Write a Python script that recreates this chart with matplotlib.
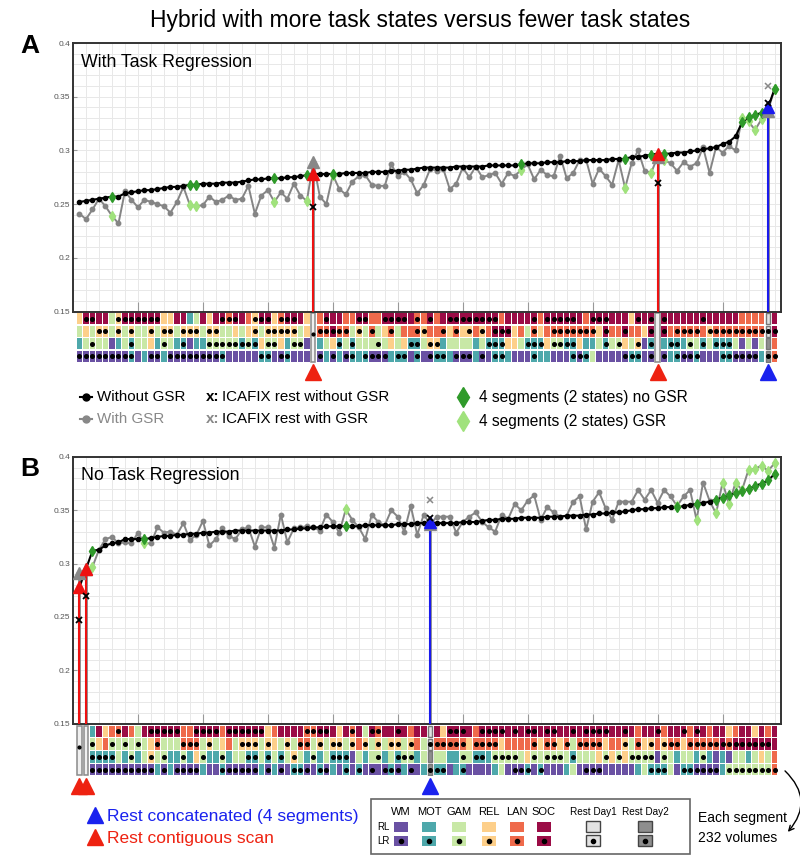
import numpy as np
import matplotlib
matplotlib.use('Agg')
import matplotlib.pyplot as plt
from matplotlib.patches import Rectangle, FancyArrowPatch
from matplotlib.ticker import MultipleLocator

plt.rcParams['font.family'] = ['Liberation Sans', 'DejaVu Sans']

# ---------------- data ----------------
# panel A (with task regression), one value per hybrid, sorted by the no-GSR value
black_a = [0.252, 0.253, 0.254, 0.255, 0.256, 0.257, 0.257, 0.260, 0.261, 0.262,
           0.263, 0.263, 0.264, 0.265, 0.266, 0.266, 0.267, 0.268, 0.268, 0.269,
           0.269, 0.269, 0.270, 0.270, 0.270, 0.271, 0.272, 0.273, 0.273, 0.274,
           0.274, 0.274, 0.275, 0.275, 0.276, 0.277, 0.278, 0.278, 0.278, 0.278,
           0.278, 0.279, 0.279, 0.279, 0.279, 0.280, 0.280, 0.280, 0.281, 0.281,
           0.282, 0.282, 0.283, 0.284, 0.284, 0.284, 0.284, 0.284, 0.285, 0.285,
           0.285, 0.285, 0.285, 0.286, 0.286, 0.286, 0.286, 0.286, 0.287, 0.288,
           0.288, 0.288, 0.289, 0.289, 0.289, 0.290, 0.290, 0.290, 0.291, 0.291,
           0.291, 0.291, 0.292, 0.292, 0.292, 0.294, 0.294, 0.295, 0.296, 0.297,
           0.297, 0.297, 0.298, 0.298, 0.299, 0.300, 0.301, 0.302, 0.303, 0.306,
           0.308, 0.313, 0.326, 0.331, 0.333, 0.335, 0.340, 0.357]
gray_a = [0.241, 0.236, 0.245, 0.255, 0.248, 0.239, 0.232, 0.262, 0.254, 0.247,
          0.254, 0.252, 0.250, 0.248, 0.242, 0.252, 0.266, 0.249, 0.248, 0.249,
          0.257, 0.252, 0.254, 0.258, 0.254, 0.255, 0.267, 0.241, 0.258, 0.263,
          0.252, 0.261, 0.255, 0.269, 0.258, 0.253, 0.289, 0.257, 0.250, 0.277,
          0.264, 0.259, 0.271, 0.276, 0.277, 0.268, 0.267, 0.267, 0.287, 0.276,
          0.280, 0.273, 0.260, 0.268, 0.283, 0.281, 0.283, 0.264, 0.269, 0.284,
          0.275, 0.285, 0.275, 0.277, 0.279, 0.269, 0.279, 0.276, 0.282, 0.287,
          0.273, 0.282, 0.277, 0.276, 0.295, 0.274, 0.279, 0.291, 0.291, 0.269,
          0.283, 0.276, 0.268, 0.291, 0.265, 0.288, 0.300, 0.281, 0.279, 0.294,
          0.291, 0.288, 0.281, 0.289, 0.285, 0.288, 0.303, 0.279, 0.303, 0.298,
          0.304, 0.300, 0.330, 0.327, 0.319, 0.329, 0.337, 0.357]
green_a = [5, 17, 18, 30, 35, 39, 68, 84, 88, 90, 102, 103, 104, 105, 107]
rest_a = [36, 89, 106]
rest_kind_a = ['contig', 'contig', 'concat']
icafix_a = [0.247, 0.270, 0.344]
icafix_gsr_a = [np.nan, np.nan, 0.360]
contig_dot_a = [36]

# panel B (no task regression)
black_b = [0.278, 0.295, 0.312, 0.313, 0.317, 0.319, 0.320, 0.323, 0.323, 0.323,
           0.323, 0.324, 0.325, 0.326, 0.326, 0.327, 0.327, 0.328, 0.328, 0.329,
           0.329, 0.330, 0.330, 0.330, 0.331, 0.331, 0.331, 0.331, 0.331, 0.331,
           0.331, 0.331, 0.332, 0.332, 0.333, 0.333, 0.334, 0.334, 0.335, 0.335,
           0.335, 0.335, 0.335, 0.335, 0.336, 0.336, 0.336, 0.336, 0.336, 0.337,
           0.337, 0.337, 0.338, 0.338, 0.339, 0.338, 0.338, 0.338, 0.338, 0.339,
           0.339, 0.339, 0.340, 0.341, 0.341, 0.342, 0.342, 0.342, 0.343, 0.343,
           0.343, 0.343, 0.344, 0.344, 0.344, 0.345, 0.345, 0.345, 0.346, 0.346,
           0.347, 0.347, 0.348, 0.348, 0.349, 0.350, 0.351, 0.351, 0.352, 0.352,
           0.353, 0.353, 0.353, 0.354, 0.355, 0.356, 0.357, 0.358, 0.360, 0.362,
           0.364, 0.366, 0.368, 0.370, 0.373, 0.375, 0.378, 0.384]
gray_b = [0.291, 0.295, 0.297, 0.313, 0.323, 0.325, 0.319, 0.320, 0.319, 0.329,
          0.319, 0.319, 0.334, 0.329, 0.330, 0.327, 0.338, 0.322, 0.327, 0.340,
          0.317, 0.323, 0.333, 0.326, 0.323, 0.332, 0.334, 0.316, 0.334, 0.334,
          0.315, 0.346, 0.320, 0.333, 0.334, 0.335, 0.334, 0.331, 0.346, 0.339,
          0.329, 0.351, 0.341, 0.334, 0.323, 0.346, 0.339, 0.336, 0.350, 0.344,
          0.330, 0.354, 0.327, 0.346, 0.337, 0.344, 0.344, 0.344, 0.329, 0.339,
          0.344, 0.348, 0.339, 0.334, 0.330, 0.346, 0.342, 0.356, 0.350, 0.359,
          0.364, 0.341, 0.353, 0.348, 0.344, 0.345, 0.358, 0.363, 0.332, 0.358,
          0.367, 0.352, 0.341, 0.358, 0.358, 0.358, 0.369, 0.360, 0.369, 0.357,
          0.369, 0.363, 0.354, 0.363, 0.369, 0.341, 0.376, 0.359, 0.347, 0.376,
          0.356, 0.376, 0.369, 0.388, 0.389, 0.392, 0.387, 0.394]
green_b = [2, 10, 41, 92, 95, 98, 99, 100, 101, 102, 103, 104, 105, 106, 107]
rest_b = [0, 1, 54]
rest_kind_b = ['contig', 'contig', 'concat']
icafix_b = [0.247, 0.270, 0.343]
icafix_gsr_b = [np.nan, np.nan, 0.360]
contig_dot_b = [0]

# segment matrix: W M G R L S = WM MOT GAM REL LAN SOC (upper RL, lower LR = dot)
# A/a, B/b = rest day1 / day2, C = contiguous rest scan
rows_a = [
    "RssSSGrsss" "sssRRSSMGS" "RSslsSLrss" "RlssSRCLsS" "SLLssLLsss"
    "sSlLsLSsss" "sssssLSSSS" "sLsssssSLs" "ssSSSRsSsC" "sSSSSSsSSS" "SSLLLLAS",
    "GRGrrGrGrG" "GrGrrGrrrG" "rrGGRGRrGr" "rrrrGRClls" "llGrGlGRlG"
    "LLlrLLlRlR" "rLrLsssRLG" "lRLlllllll" "RsLLsLLRsC" "sLllllLrll" "llllllas",
    "MGgGGWMGmG" "GRMgGMmWMM" "gggggmgmRg" "gRMggWCMGR" "mGmGGGgGRG"
    "RmmGrrMGGG" "GMGmmmRRGm" "mmRggmmRMM" "GmGgRGrWmC" "MmmMgGmGmm" "mGWGWGBL",
    "wwwwwwwwmW" "MwwMwwwwww" "wwmWWWWWmm" "WwmWWWCwMw" "MwmMmwwwMm"
    "mWmWwmmMww" "wMwWmmMWWW" "mMMWWWmwmG" "WWWWwmmWwC" "wMmwwmWWWm" "mwwwwMbl",
]
rows_b = [
    "CCMSRLlSLG" "SsssssLLss" "ssLssssssR" "LSSSSllssS" "RSlSGslSSs"
    "SLSSASRsss" "SLssssSsSs" "sSssSSsSss" "ssSSsSLSSs" "LSSsLsSLSS" "RLSSRSLS",
    "CCgRLgGgGg" "GRlGGGlllG" "rGRLGrrrGr" "RGrGllGrGr" "rGrLrGrGrr"
    "GrLGalllll" "RllllRLLLL" "lRllRlGlll" "lRLLrGlRrL" "rllRllllls" "lssssssS",
    "CCmmmmGMgM" "GrGgMMgMRg" "MMgMGGmmGm" "GmGrGMgMGm" "mmWGMGgMGm"
    "ggMGBGGMMg" "GmmMggggGR" "gGgggGmGGG" "RgRgRggggW" "gGMGGMgMWM" "WGGMGRGL",
    "CCwwwwwwww" "wwMwMwwwwM" "WWmwwwwwMw" "MwWmmwWmwM" "WmWmWwWwmw"
    "MwWMbmmWMm" "WWWWMGWwwm" "WmWWWMGWww" "wWWWWWMGmm" "mGWmmwwwwM" "gggggggl",
]

task_names = ['WM', 'MOT', 'GAM', 'REL', 'LAN', 'SOC']
task_codes = ['W', 'M', 'G', 'R', 'L', 'S']
task_colors = ['#6a51a3', '#4ea8ab', '#c8e8a6', '#fdcf8a', '#ef6a4b', '#9b0c46']
rest_colors = {'A': '#e2e2e2', 'B': '#8e8e8e'}
color_of = dict(zip(task_codes, task_colors))
color_of.update(rest_colors)

n_cols = len(black_a)
for r in rows_a + rows_b:
    if len(r) != n_cols:
        raise ValueError('row length %d' % len(r))

fig = plt.figure(figsize=(8, 8.56), dpi=100)

L, W = 73 / 800, 708 / 800
XLIM = (0, 109)


def draw_main(ax, black, gray, green, rest, kinds, icafix, icafix_gsr, label):
    cols = np.arange(1, len(black) + 1)
    black = np.array(black)
    gray = np.array(gray)
    ax.set_xlim(*XLIM)
    ax.set_ylim(0.15, 0.4)
    ax.xaxis.set_minor_locator(MultipleLocator(2))
    ax.yaxis.set_minor_locator(MultipleLocator(0.01))
    ax.grid(which='both', color='#e8e8e8', lw=0.7)
    ax.set_axisbelow(True)
    ax.set_xticks(np.arange(10, 101, 10))
    ax.set_xticklabels([])
    ax.set_yticks([0.15, 0.2, 0.25, 0.3, 0.35, 0.4])
    ax.set_yticklabels(['0.15', '0.2', '0.25', '0.3', '0.35', '0.4'], fontsize=6, color='#555555')
    ax.tick_params(axis='x', which='major', direction='in', length=7, color='#999999')
    ax.tick_params(axis='y', which='major', direction='in', length=3, color='#999999', pad=2)
    ax.tick_params(which='minor', length=0)
    for s in ax.spines.values():
        s.set_color('#333333')
        s.set_linewidth(1.4)

    for c, k in zip(rest, kinds):
        col = '#ee1111' if k == 'contig' else '#1a1aee'
        ax.plot([c + 1, c + 1], [0.15, gray[c]], color='#888888', lw=2, zorder=2)
        ax.plot([c + 1, c + 1], [0.15, black[c]], color=col, lw=1.5, zorder=3)

    ax.plot(cols, gray, color='#858585', lw=1.4, marker='o', ms=3.2, zorder=4)
    ax.plot(cols, black, color='black', lw=1.5, marker='o', ms=3.0, zorder=5)
    ax.plot(cols[green], gray[green], 'd', color='#a0e27c', ms=5.5, zorder=6)
    ax.plot(cols[green], black[green], 'd', color='#2f9a2a', ms=5.5, zorder=7)

    for c, k, xb, xg in zip(rest, kinds, icafix, icafix_gsr):
        col = '#ee1111' if k == 'contig' else '#1a1aee'
        ax.plot(c + 1, gray[c], '^', color='#888888', ms=9, zorder=8)
        ax.plot(c + 1, black[c], '^', color=col, ms=9, zorder=9)
        ax.plot(c + 1, xb, 'x', color='black', ms=4.5, mew=1.3, zorder=10)
        ax.plot(c + 1, xg, 'x', color='#888888', ms=4.5, mew=1.1, zorder=10)

    ax.text(0.011, 0.929, label, transform=ax.transAxes, fontsize=12.8, va='center')


def draw_matrix(axm, rows, rest, kinds, contig_dot, tri_y):
    axm.set_xlim(*XLIM)
    axm.set_ylim(4, 0)
    axm.axis('off')
    for r, row in enumerate(rows):
        for i, code in enumerate(row):
            x = i + 1
            up = code.upper()
            if up == 'C':
                continue
            if up in rest_colors:
                axm.add_patch(Rectangle((x - 0.33, r + 0.06), 0.66, 0.88, fc=color_of[up],
                                        ec='#777777', lw=1.0))
            else:
                axm.add_patch(Rectangle((x - 0.43, r + 0.05), 0.86, 0.9, fc=color_of[up],
                                        ec='none'))
            if code.islower():
                axm.plot(x, r + 0.5, 'o', color='black', ms=2.6)
    for c, k in zip(rest, kinds):
        if k == 'contig':
            axm.add_patch(Rectangle((c + 1 - 0.33, 0.04), 0.66, 3.92, fc='#f0f0f0',
                                    ec='#8a8a8a', lw=1.1))
            if c in contig_dot:
                axm.plot(c + 1, 1.7, 'o', color='black', ms=2.0)
        col = '#ee2211' if k == 'contig' else '#1a22ee'
        axm.plot(c + 1, tri_y, '^', color=col, ms=12, clip_on=False)


ax_a = fig.add_axes([L, 1 - 311.5 / 856, W, 268.5 / 856])
draw_main(ax_a, black_a, gray_a, green_a, rest_a, rest_kind_a, icafix_a, icafix_gsr_a,
          'With Task Regression')
axm_a = fig.add_axes([L, 1 - 362.5 / 856, W, 50 / 856])
draw_matrix(axm_a, rows_a, rest_a, rest_kind_a, contig_dot_a, 4.78)

ax_b = fig.add_axes([L, 1 - 723.5 / 856, W, 266.5 / 856])
draw_main(ax_b, black_b, gray_b, green_b, rest_b, rest_kind_b, icafix_b, icafix_gsr_b,
          'No Task Regression')
axm_b = fig.add_axes([L, 1 - 776 / 856, W, 51 / 856])
draw_matrix(axm_b, rows_b, rest_b, rest_kind_b, contig_dot_b, 4.75)

# ---------------- overlay: titles, legends ----------------
ov = fig.add_axes([0, 0, 1, 1], zorder=20)
ov.set_xlim(0, 800)
ov.set_ylim(856, 0)
ov.axis('off')
ov.patch.set_alpha(0)

ov.text(420, 20, 'Hybrid with more task states versus fewer task states', fontsize=16.5,
        ha='center', va='center')
ov.text(30, 46, 'A', fontsize=19, weight='bold', ha='center', va='center')
ov.text(30, 469, 'B', fontsize=19, weight='bold', ha='center', va='center')

fs = 10.9
ov.plot([80, 92], [397, 397], color='black', lw=1.5)
ov.plot(86, 397, 'o', color='black', ms=5)
ov.text(97, 397, 'Without GSR', fontsize=fs, va='center')
ov.plot([80, 92], [419, 419], color='#888888', lw=1.5)
ov.plot(86, 419, 'o', color='#888888', ms=5)
ov.text(97, 419, 'With GSR', fontsize=fs, va='center', color='#888888')
ov.text(206, 397, 'x:', fontsize=fs, va='center', weight='bold')
ov.text(222, 397, 'ICAFIX rest without GSR', fontsize=fs, va='center')
ov.text(206, 419, 'x:', fontsize=fs, va='center', weight='bold', color='#888888')
ov.text(222, 419, 'ICAFIX rest with GSR', fontsize=fs, va='center')
ov.plot(463, 397, 'd', color='#2f9a2a', ms=10)
ov.text(479, 397, '4 segments (2 states) no GSR', fontsize=11.2, va='center')
ov.plot(463, 421, 'd', color='#a0e27c', ms=10)
ov.text(479, 421, '4 segments (2 states) GSR', fontsize=11.2, va='center')

ov.plot(95, 815, '^', color='#1a22ee', ms=12)
ov.text(107, 816, 'Rest concatenated (4 segments)', fontsize=12.5, va='center', color='#1a22ee')
ov.plot(95, 837, '^', color='#ee2211', ms=12)
ov.text(107, 838, 'Rest contiguous scan', fontsize=12.5, va='center', color='#ee2211')

ov.add_patch(Rectangle((371, 799), 319, 55, fc='white', ec='#666666', lw=1.2))
head_x = [401, 429, 459, 489, 517, 544]
for hx, name, col in zip(head_x, task_names, task_colors):
    ov.text(hx, 812, name, fontsize=8, ha='center', va='center')
    ov.add_patch(Rectangle((hx - 7, 822), 14, 10, fc=col, ec='none'))
    ov.add_patch(Rectangle((hx - 7, 836), 14, 10, fc=col, ec='none'))
    ov.plot(hx, 841, 'o', color='black', ms=3)
for hx, name, code in zip([593, 645], ['Rest Day1', 'Rest Day2'], ['A', 'B']):
    ov.text(hx, 812, name, fontsize=7.2, ha='center', va='center')
    ov.add_patch(Rectangle((hx - 7, 821), 14, 11, fc=rest_colors[code], ec='#444444', lw=1))
    ov.add_patch(Rectangle((hx - 7, 835), 14, 11, fc=rest_colors[code], ec='#444444', lw=1))
    ov.plot(hx, 840.5, 'o', color='black', ms=3)
ov.text(383, 827, 'RL', fontsize=7, ha='center', va='center')
ov.text(383, 841, 'LR', fontsize=7, ha='center', va='center')

ov.text(698, 818, 'Each segment', fontsize=10, va='center')
ov.text(698, 838, '232 volumes', fontsize=10, va='center')
ov.add_patch(FancyArrowPatch((783, 769), (786, 834), connectionstyle='arc3,rad=-0.5',
                             arrowstyle='->', mutation_scale=9, color='black', lw=1))

fig.savefig('out.png', dpi=100)
